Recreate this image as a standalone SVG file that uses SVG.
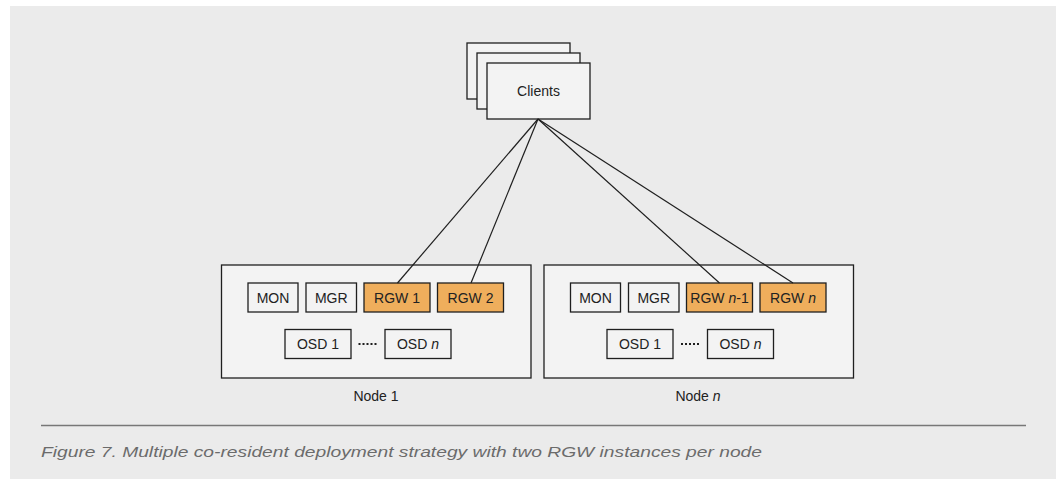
<svg xmlns="http://www.w3.org/2000/svg" width="1064" height="479" viewBox="0 0 1064 479">
  <style>
    .panel { fill: #ebebeb; }
    .box { fill: #f3f3f3; stroke: #1f1f1f; stroke-width: 1.3; }
    .rgw { fill: #efae5c; stroke: #1f1f1f; stroke-width: 1.3; }
    .link { stroke: #1f1f1f; stroke-width: 1.2; fill: none; }
    .dots { stroke: #1f1f1f; stroke-width: 2; stroke-dasharray: 2 2; fill: none; }
    .lbl { font-family: "Liberation Sans", Arial, sans-serif; font-size: 14px; fill: #222; text-anchor: middle; }
    .cap { font-family: "Liberation Sans", Arial, sans-serif; font-size: 15px; font-style: italic; fill: #6b6b6b; }
  </style>

  <rect class="panel" x="10" y="6" width="1046" height="473"/>

  <g id="clients">
    <rect class="box" x="467" y="43" width="103" height="56"/>
    <rect class="box" x="477" y="53" width="103" height="56"/>
    <rect class="box" x="487" y="63" width="103" height="56"/>
    <text class="lbl" x="538.5" y="96">Clients</text>
  </g>

  <g id="node1">
    <rect class="box" x="221.5" y="265" width="309.5" height="113"/>
    <g id="node1-mon"><rect class="box" x="248" y="283" width="50" height="29"/><text class="lbl" x="273" y="302.5">MON</text></g>
    <g id="node1-mgr"><rect class="box" x="306" y="283" width="50.5" height="29"/><text class="lbl" x="331.25" y="302.5">MGR</text></g>
    <g id="node1-rgw1"><rect class="rgw" x="364" y="283" width="66" height="29"/><text class="lbl" x="397" y="302.5">RGW 1</text></g>
    <g id="node1-rgw2"><rect class="rgw" x="437.5" y="283" width="66" height="29"/><text class="lbl" x="470.5" y="302.5">RGW 2</text></g>
    <g id="node1-osd1"><rect class="box" x="285" y="329.5" width="66" height="29"/><text class="lbl" x="318" y="349">OSD 1</text></g>
    <line class="dots" x1="358.5" y1="344" x2="378" y2="344"/>
    <g id="node1-osdn"><rect class="box" x="385" y="329.5" width="66" height="29"/><text class="lbl" x="418" y="349">OSD <tspan font-style="italic">n</tspan></text></g>
    <text class="lbl" x="376" y="401">Node 1</text>
  </g>

  <g id="noden">
    <rect class="box" x="544" y="265" width="309.5" height="113"/>
    <g id="noden-mon"><rect class="box" x="570.5" y="283" width="50" height="29"/><text class="lbl" x="595.5" y="302.5">MON</text></g>
    <g id="noden-mgr"><rect class="box" x="628.5" y="283" width="50.5" height="29"/><text class="lbl" x="653.75" y="302.5">MGR</text></g>
    <g id="noden-rgwn1"><rect class="rgw" x="686.5" y="283" width="66" height="29"/><text class="lbl" x="719.5" y="302.5">RGW <tspan font-style="italic">n</tspan>-1</text></g>
    <g id="noden-rgwn"><rect class="rgw" x="760" y="283" width="66" height="29"/><text class="lbl" x="793" y="302.5">RGW <tspan font-style="italic">n</tspan></text></g>
    <g id="noden-osd1"><rect class="box" x="607" y="329.5" width="66" height="29"/><text class="lbl" x="640" y="349">OSD 1</text></g>
    <line class="dots" x1="681" y1="344" x2="700.5" y2="344"/>
    <g id="noden-osdn"><rect class="box" x="707.5" y="329.5" width="66" height="29"/><text class="lbl" x="740.5" y="349">OSD <tspan font-style="italic">n</tspan></text></g>
    <text class="lbl" x="698" y="401">Node <tspan font-style="italic">n</tspan></text>
  </g>

  <!-- connectors from clients to RGW instances, drawn over the node panels -->
  <g id="connectors">
    <line class="link" x1="538" y1="119" x2="397.5" y2="283"/>
    <line class="link" x1="538" y1="119" x2="471" y2="283"/>
    <line class="link" x1="538" y1="119" x2="719.5" y2="283"/>
    <line class="link" x1="538" y1="119" x2="793" y2="283"/>
  </g>

  <line x1="41" y1="425.5" x2="1026" y2="425.5" stroke="#777" stroke-width="1.5"/>
  <text class="cap" x="41" y="457" textLength="721" lengthAdjust="spacingAndGlyphs">Figure 7. Multiple co-resident deployment strategy with two RGW instances per node</text>
</svg>
